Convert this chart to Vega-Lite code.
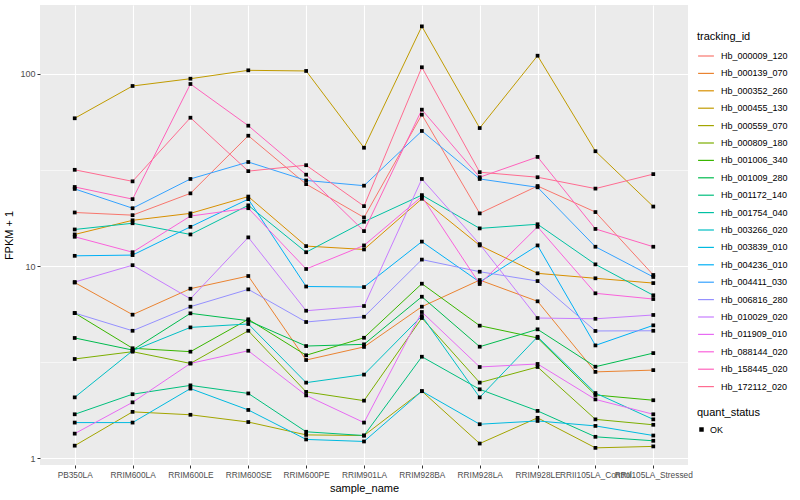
{
 "$schema": "https://vega.github.io/schema/vega-lite/v6.json",
 "width": 648, "height": 460,
 "autosize": {"type": "none"},
 "padding": {"left": 40, "top": 5, "right": 112, "bottom": 35},
 "background": "white",
 "config": {
  "font": "Liberation Sans",
  "view": {"fill": "#EBEBEB", "stroke": null},
  "axis": {"domain": false, "gridColor": "white", "gridWidth": 1.1, "tickColor": "#333333", "tickSize": 3, "labelColor": "#4D4D4D", "labelFontSize": 9, "titleFontSize": 11, "titleFontWeight": "normal", "titleColor": "black"},
  "legend": {"titleFontSize": 11, "titleFontWeight": "normal", "titleColor": "black", "labelFontSize": 9, "labelColor": "black"}
 },
 "data": {"values": [
{"tracking_id":"Hb_000009_120","sample_name":"PB350LA","FPKM":19.0,"quant_status":"OK"},
{"tracking_id":"Hb_000009_120","sample_name":"RRIM600LA","FPKM":18.4,"quant_status":"OK"},
{"tracking_id":"Hb_000009_120","sample_name":"RRIM600LE","FPKM":23.9,"quant_status":"OK"},
{"tracking_id":"Hb_000009_120","sample_name":"RRIM600SE","FPKM":47.7,"quant_status":"OK"},
{"tracking_id":"Hb_000009_120","sample_name":"RRIM600PE","FPKM":26.7,"quant_status":"OK"},
{"tracking_id":"Hb_000009_120","sample_name":"RRIM901LA","FPKM":17.9,"quant_status":"OK"},
{"tracking_id":"Hb_000009_120","sample_name":"RRIM928BA","FPKM":61.4,"quant_status":"OK"},
{"tracking_id":"Hb_000009_120","sample_name":"RRIM928LA","FPKM":18.8,"quant_status":"OK"},
{"tracking_id":"Hb_000009_120","sample_name":"RRIM928LE","FPKM":26.1,"quant_status":"OK"},
{"tracking_id":"Hb_000009_120","sample_name":"RRII105LA_Control","FPKM":19.1,"quant_status":"OK"},
{"tracking_id":"Hb_000009_120","sample_name":"RRII105LA_Stressed","FPKM":8.98,"quant_status":"OK"},
{"tracking_id":"Hb_000139_070","sample_name":"PB350LA","FPKM":8.2,"quant_status":"OK"},
{"tracking_id":"Hb_000139_070","sample_name":"RRIM600LA","FPKM":5.58,"quant_status":"OK"},
{"tracking_id":"Hb_000139_070","sample_name":"RRIM600LE","FPKM":7.62,"quant_status":"OK"},
{"tracking_id":"Hb_000139_070","sample_name":"RRIM600SE","FPKM":8.87,"quant_status":"OK"},
{"tracking_id":"Hb_000139_070","sample_name":"RRIM600PE","FPKM":3.24,"quant_status":"OK"},
{"tracking_id":"Hb_000139_070","sample_name":"RRIM901LA","FPKM":3.79,"quant_status":"OK"},
{"tracking_id":"Hb_000139_070","sample_name":"RRIM928BA","FPKM":6.14,"quant_status":"OK"},
{"tracking_id":"Hb_000139_070","sample_name":"RRIM928LA","FPKM":8.45,"quant_status":"OK"},
{"tracking_id":"Hb_000139_070","sample_name":"RRIM928LE","FPKM":6.55,"quant_status":"OK"},
{"tracking_id":"Hb_000139_070","sample_name":"RRII105LA_Control","FPKM":2.81,"quant_status":"OK"},
{"tracking_id":"Hb_000139_070","sample_name":"RRII105LA_Stressed","FPKM":2.87,"quant_status":"OK"},
{"tracking_id":"Hb_000352_260","sample_name":"PB350LA","FPKM":14.6,"quant_status":"OK"},
{"tracking_id":"Hb_000352_260","sample_name":"RRIM600LA","FPKM":17.3,"quant_status":"OK"},
{"tracking_id":"Hb_000352_260","sample_name":"RRIM600LE","FPKM":18.8,"quant_status":"OK"},
{"tracking_id":"Hb_000352_260","sample_name":"RRIM600SE","FPKM":23.0,"quant_status":"OK"},
{"tracking_id":"Hb_000352_260","sample_name":"RRIM600PE","FPKM":12.7,"quant_status":"OK"},
{"tracking_id":"Hb_000352_260","sample_name":"RRIM901LA","FPKM":12.2,"quant_status":"OK"},
{"tracking_id":"Hb_000352_260","sample_name":"RRIM928BA","FPKM":22.4,"quant_status":"OK"},
{"tracking_id":"Hb_000352_260","sample_name":"RRIM928LA","FPKM":12.8,"quant_status":"OK"},
{"tracking_id":"Hb_000352_260","sample_name":"RRIM928LE","FPKM":9.16,"quant_status":"OK"},
{"tracking_id":"Hb_000352_260","sample_name":"RRII105LA_Control","FPKM":8.63,"quant_status":"OK"},
{"tracking_id":"Hb_000352_260","sample_name":"RRII105LA_Stressed","FPKM":8.15,"quant_status":"OK"},
{"tracking_id":"Hb_000455_130","sample_name":"PB350LA","FPKM":58.8,"quant_status":"OK"},
{"tracking_id":"Hb_000455_130","sample_name":"RRIM600LA","FPKM":86.6,"quant_status":"OK"},
{"tracking_id":"Hb_000455_130","sample_name":"RRIM600LE","FPKM":94.5,"quant_status":"OK"},
{"tracking_id":"Hb_000455_130","sample_name":"RRIM600SE","FPKM":104.5,"quant_status":"OK"},
{"tracking_id":"Hb_000455_130","sample_name":"RRIM600PE","FPKM":103.7,"quant_status":"OK"},
{"tracking_id":"Hb_000455_130","sample_name":"RRIM901LA","FPKM":41.3,"quant_status":"OK"},
{"tracking_id":"Hb_000455_130","sample_name":"RRIM928BA","FPKM":177,"quant_status":"OK"},
{"tracking_id":"Hb_000455_130","sample_name":"RRIM928LA","FPKM":52.3,"quant_status":"OK"},
{"tracking_id":"Hb_000455_130","sample_name":"RRIM928LE","FPKM":124.5,"quant_status":"OK"},
{"tracking_id":"Hb_000455_130","sample_name":"RRII105LA_Control","FPKM":39.6,"quant_status":"OK"},
{"tracking_id":"Hb_000455_130","sample_name":"RRII105LA_Stressed","FPKM":20.4,"quant_status":"OK"},
{"tracking_id":"Hb_000559_070","sample_name":"PB350LA","FPKM":1.16,"quant_status":"OK"},
{"tracking_id":"Hb_000559_070","sample_name":"RRIM600LA","FPKM":1.74,"quant_status":"OK"},
{"tracking_id":"Hb_000559_070","sample_name":"RRIM600LE","FPKM":1.68,"quant_status":"OK"},
{"tracking_id":"Hb_000559_070","sample_name":"RRIM600SE","FPKM":1.54,"quant_status":"OK"},
{"tracking_id":"Hb_000559_070","sample_name":"RRIM600PE","FPKM":1.32,"quant_status":"OK"},
{"tracking_id":"Hb_000559_070","sample_name":"RRIM901LA","FPKM":1.31,"quant_status":"OK"},
{"tracking_id":"Hb_000559_070","sample_name":"RRIM928BA","FPKM":2.23,"quant_status":"OK"},
{"tracking_id":"Hb_000559_070","sample_name":"RRIM928LA","FPKM":1.19,"quant_status":"OK"},
{"tracking_id":"Hb_000559_070","sample_name":"RRIM928LE","FPKM":1.62,"quant_status":"OK"},
{"tracking_id":"Hb_000559_070","sample_name":"RRII105LA_Control","FPKM":1.13,"quant_status":"OK"},
{"tracking_id":"Hb_000559_070","sample_name":"RRII105LA_Stressed","FPKM":1.15,"quant_status":"OK"},
{"tracking_id":"Hb_000809_180","sample_name":"PB350LA","FPKM":3.28,"quant_status":"OK"},
{"tracking_id":"Hb_000809_180","sample_name":"RRIM600LA","FPKM":3.58,"quant_status":"OK"},
{"tracking_id":"Hb_000809_180","sample_name":"RRIM600LE","FPKM":3.11,"quant_status":"OK"},
{"tracking_id":"Hb_000809_180","sample_name":"RRIM600SE","FPKM":4.6,"quant_status":"OK"},
{"tracking_id":"Hb_000809_180","sample_name":"RRIM600PE","FPKM":2.21,"quant_status":"OK"},
{"tracking_id":"Hb_000809_180","sample_name":"RRIM901LA","FPKM":1.99,"quant_status":"OK"},
{"tracking_id":"Hb_000809_180","sample_name":"RRIM928BA","FPKM":5.36,"quant_status":"OK"},
{"tracking_id":"Hb_000809_180","sample_name":"RRIM928LA","FPKM":2.47,"quant_status":"OK"},
{"tracking_id":"Hb_000809_180","sample_name":"RRIM928LE","FPKM":2.98,"quant_status":"OK"},
{"tracking_id":"Hb_000809_180","sample_name":"RRII105LA_Control","FPKM":1.59,"quant_status":"OK"},
{"tracking_id":"Hb_000809_180","sample_name":"RRII105LA_Stressed","FPKM":1.49,"quant_status":"OK"},
{"tracking_id":"Hb_001006_340","sample_name":"PB350LA","FPKM":5.69,"quant_status":"OK"},
{"tracking_id":"Hb_001006_340","sample_name":"RRIM600LA","FPKM":3.73,"quant_status":"OK"},
{"tracking_id":"Hb_001006_340","sample_name":"RRIM600LE","FPKM":3.58,"quant_status":"OK"},
{"tracking_id":"Hb_001006_340","sample_name":"RRIM600SE","FPKM":5.28,"quant_status":"OK"},
{"tracking_id":"Hb_001006_340","sample_name":"RRIM600PE","FPKM":3.43,"quant_status":"OK"},
{"tracking_id":"Hb_001006_340","sample_name":"RRIM901LA","FPKM":4.23,"quant_status":"OK"},
{"tracking_id":"Hb_001006_340","sample_name":"RRIM928BA","FPKM":8.09,"quant_status":"OK"},
{"tracking_id":"Hb_001006_340","sample_name":"RRIM928LA","FPKM":4.89,"quant_status":"OK"},
{"tracking_id":"Hb_001006_340","sample_name":"RRIM928LE","FPKM":4.22,"quant_status":"OK"},
{"tracking_id":"Hb_001006_340","sample_name":"RRII105LA_Control","FPKM":2.13,"quant_status":"OK"},
{"tracking_id":"Hb_001006_340","sample_name":"RRII105LA_Stressed","FPKM":2.0,"quant_status":"OK"},
{"tracking_id":"Hb_001009_280","sample_name":"PB350LA","FPKM":4.22,"quant_status":"OK"},
{"tracking_id":"Hb_001009_280","sample_name":"RRIM600LA","FPKM":3.65,"quant_status":"OK"},
{"tracking_id":"Hb_001009_280","sample_name":"RRIM600LE","FPKM":5.67,"quant_status":"OK"},
{"tracking_id":"Hb_001009_280","sample_name":"RRIM600SE","FPKM":5.19,"quant_status":"OK"},
{"tracking_id":"Hb_001009_280","sample_name":"RRIM600PE","FPKM":3.83,"quant_status":"OK"},
{"tracking_id":"Hb_001009_280","sample_name":"RRIM901LA","FPKM":3.91,"quant_status":"OK"},
{"tracking_id":"Hb_001009_280","sample_name":"RRIM928BA","FPKM":6.92,"quant_status":"OK"},
{"tracking_id":"Hb_001009_280","sample_name":"RRIM928LA","FPKM":3.8,"quant_status":"OK"},
{"tracking_id":"Hb_001009_280","sample_name":"RRIM928LE","FPKM":4.68,"quant_status":"OK"},
{"tracking_id":"Hb_001009_280","sample_name":"RRII105LA_Control","FPKM":2.99,"quant_status":"OK"},
{"tracking_id":"Hb_001009_280","sample_name":"RRII105LA_Stressed","FPKM":3.52,"quant_status":"OK"},
{"tracking_id":"Hb_001172_140","sample_name":"PB350LA","FPKM":1.69,"quant_status":"OK"},
{"tracking_id":"Hb_001172_140","sample_name":"RRIM600LA","FPKM":2.15,"quant_status":"OK"},
{"tracking_id":"Hb_001172_140","sample_name":"RRIM600LE","FPKM":2.39,"quant_status":"OK"},
{"tracking_id":"Hb_001172_140","sample_name":"RRIM600SE","FPKM":2.17,"quant_status":"OK"},
{"tracking_id":"Hb_001172_140","sample_name":"RRIM600PE","FPKM":1.37,"quant_status":"OK"},
{"tracking_id":"Hb_001172_140","sample_name":"RRIM901LA","FPKM":1.31,"quant_status":"OK"},
{"tracking_id":"Hb_001172_140","sample_name":"RRIM928BA","FPKM":3.37,"quant_status":"OK"},
{"tracking_id":"Hb_001172_140","sample_name":"RRIM928LA","FPKM":2.28,"quant_status":"OK"},
{"tracking_id":"Hb_001172_140","sample_name":"RRIM928LE","FPKM":1.76,"quant_status":"OK"},
{"tracking_id":"Hb_001172_140","sample_name":"RRII105LA_Control","FPKM":1.29,"quant_status":"OK"},
{"tracking_id":"Hb_001172_140","sample_name":"RRII105LA_Stressed","FPKM":1.23,"quant_status":"OK"},
{"tracking_id":"Hb_001754_040","sample_name":"PB350LA","FPKM":15.5,"quant_status":"OK"},
{"tracking_id":"Hb_001754_040","sample_name":"RRIM600LA","FPKM":16.7,"quant_status":"OK"},
{"tracking_id":"Hb_001754_040","sample_name":"RRIM600LE","FPKM":14.6,"quant_status":"OK"},
{"tracking_id":"Hb_001754_040","sample_name":"RRIM600SE","FPKM":20.7,"quant_status":"OK"},
{"tracking_id":"Hb_001754_040","sample_name":"RRIM600PE","FPKM":11.8,"quant_status":"OK"},
{"tracking_id":"Hb_001754_040","sample_name":"RRIM901LA","FPKM":17.0,"quant_status":"OK"},
{"tracking_id":"Hb_001754_040","sample_name":"RRIM928BA","FPKM":23.4,"quant_status":"OK"},
{"tracking_id":"Hb_001754_040","sample_name":"RRIM928LA","FPKM":15.7,"quant_status":"OK"},
{"tracking_id":"Hb_001754_040","sample_name":"RRIM928LE","FPKM":16.5,"quant_status":"OK"},
{"tracking_id":"Hb_001754_040","sample_name":"RRII105LA_Control","FPKM":10.2,"quant_status":"OK"},
{"tracking_id":"Hb_001754_040","sample_name":"RRII105LA_Stressed","FPKM":7.04,"quant_status":"OK"},
{"tracking_id":"Hb_003266_020","sample_name":"PB350LA","FPKM":2.07,"quant_status":"OK"},
{"tracking_id":"Hb_003266_020","sample_name":"RRIM600LA","FPKM":3.62,"quant_status":"OK"},
{"tracking_id":"Hb_003266_020","sample_name":"RRIM600LE","FPKM":4.79,"quant_status":"OK"},
{"tracking_id":"Hb_003266_020","sample_name":"RRIM600SE","FPKM":4.99,"quant_status":"OK"},
{"tracking_id":"Hb_003266_020","sample_name":"RRIM600PE","FPKM":2.47,"quant_status":"OK"},
{"tracking_id":"Hb_003266_020","sample_name":"RRIM901LA","FPKM":2.72,"quant_status":"OK"},
{"tracking_id":"Hb_003266_020","sample_name":"RRIM928BA","FPKM":5.49,"quant_status":"OK"},
{"tracking_id":"Hb_003266_020","sample_name":"RRIM928LA","FPKM":2.07,"quant_status":"OK"},
{"tracking_id":"Hb_003266_020","sample_name":"RRIM928LE","FPKM":4.28,"quant_status":"OK"},
{"tracking_id":"Hb_003266_020","sample_name":"RRII105LA_Control","FPKM":2.18,"quant_status":"OK"},
{"tracking_id":"Hb_003266_020","sample_name":"RRII105LA_Stressed","FPKM":1.59,"quant_status":"OK"},
{"tracking_id":"Hb_003839_010","sample_name":"PB350LA","FPKM":1.53,"quant_status":"OK"},
{"tracking_id":"Hb_003839_010","sample_name":"RRIM600LA","FPKM":1.53,"quant_status":"OK"},
{"tracking_id":"Hb_003839_010","sample_name":"RRIM600LE","FPKM":2.3,"quant_status":"OK"},
{"tracking_id":"Hb_003839_010","sample_name":"RRIM600SE","FPKM":1.78,"quant_status":"OK"},
{"tracking_id":"Hb_003839_010","sample_name":"RRIM600PE","FPKM":1.25,"quant_status":"OK"},
{"tracking_id":"Hb_003839_010","sample_name":"RRIM901LA","FPKM":1.22,"quant_status":"OK"},
{"tracking_id":"Hb_003839_010","sample_name":"RRIM928BA","FPKM":2.23,"quant_status":"OK"},
{"tracking_id":"Hb_003839_010","sample_name":"RRIM928LA","FPKM":1.5,"quant_status":"OK"},
{"tracking_id":"Hb_003839_010","sample_name":"RRIM928LE","FPKM":1.56,"quant_status":"OK"},
{"tracking_id":"Hb_003839_010","sample_name":"RRII105LA_Control","FPKM":1.47,"quant_status":"OK"},
{"tracking_id":"Hb_003839_010","sample_name":"RRII105LA_Stressed","FPKM":1.31,"quant_status":"OK"},
{"tracking_id":"Hb_004236_010","sample_name":"PB350LA","FPKM":11.3,"quant_status":"OK"},
{"tracking_id":"Hb_004236_010","sample_name":"RRIM600LA","FPKM":11.4,"quant_status":"OK"},
{"tracking_id":"Hb_004236_010","sample_name":"RRIM600LE","FPKM":16.0,"quant_status":"OK"},
{"tracking_id":"Hb_004236_010","sample_name":"RRIM600SE","FPKM":22.3,"quant_status":"OK"},
{"tracking_id":"Hb_004236_010","sample_name":"RRIM600PE","FPKM":7.82,"quant_status":"OK"},
{"tracking_id":"Hb_004236_010","sample_name":"RRIM901LA","FPKM":7.77,"quant_status":"OK"},
{"tracking_id":"Hb_004236_010","sample_name":"RRIM928BA","FPKM":13.4,"quant_status":"OK"},
{"tracking_id":"Hb_004236_010","sample_name":"RRIM928LA","FPKM":8.25,"quant_status":"OK"},
{"tracking_id":"Hb_004236_010","sample_name":"RRIM928LE","FPKM":12.8,"quant_status":"OK"},
{"tracking_id":"Hb_004236_010","sample_name":"RRII105LA_Control","FPKM":3.86,"quant_status":"OK"},
{"tracking_id":"Hb_004236_010","sample_name":"RRII105LA_Stressed","FPKM":4.91,"quant_status":"OK"},
{"tracking_id":"Hb_004411_030","sample_name":"PB350LA","FPKM":25.2,"quant_status":"OK"},
{"tracking_id":"Hb_004411_030","sample_name":"RRIM600LA","FPKM":20.0,"quant_status":"OK"},
{"tracking_id":"Hb_004411_030","sample_name":"RRIM600LE","FPKM":28.4,"quant_status":"OK"},
{"tracking_id":"Hb_004411_030","sample_name":"RRIM600SE","FPKM":34.8,"quant_status":"OK"},
{"tracking_id":"Hb_004411_030","sample_name":"RRIM600PE","FPKM":27.9,"quant_status":"OK"},
{"tracking_id":"Hb_004411_030","sample_name":"RRIM901LA","FPKM":26.2,"quant_status":"OK"},
{"tracking_id":"Hb_004411_030","sample_name":"RRIM928BA","FPKM":50.5,"quant_status":"OK"},
{"tracking_id":"Hb_004411_030","sample_name":"RRIM928LA","FPKM":28.4,"quant_status":"OK"},
{"tracking_id":"Hb_004411_030","sample_name":"RRIM928LE","FPKM":25.7,"quant_status":"OK"},
{"tracking_id":"Hb_004411_030","sample_name":"RRII105LA_Control","FPKM":12.6,"quant_status":"OK"},
{"tracking_id":"Hb_004411_030","sample_name":"RRII105LA_Stressed","FPKM":8.77,"quant_status":"OK"},
{"tracking_id":"Hb_006816_280","sample_name":"PB350LA","FPKM":5.69,"quant_status":"OK"},
{"tracking_id":"Hb_006816_280","sample_name":"RRIM600LA","FPKM":4.6,"quant_status":"OK"},
{"tracking_id":"Hb_006816_280","sample_name":"RRIM600LE","FPKM":6.14,"quant_status":"OK"},
{"tracking_id":"Hb_006816_280","sample_name":"RRIM600SE","FPKM":7.56,"quant_status":"OK"},
{"tracking_id":"Hb_006816_280","sample_name":"RRIM600PE","FPKM":5.11,"quant_status":"OK"},
{"tracking_id":"Hb_006816_280","sample_name":"RRIM901LA","FPKM":5.44,"quant_status":"OK"},
{"tracking_id":"Hb_006816_280","sample_name":"RRIM928BA","FPKM":10.8,"quant_status":"OK"},
{"tracking_id":"Hb_006816_280","sample_name":"RRIM928LA","FPKM":9.34,"quant_status":"OK"},
{"tracking_id":"Hb_006816_280","sample_name":"RRIM928LE","FPKM":8.35,"quant_status":"OK"},
{"tracking_id":"Hb_006816_280","sample_name":"RRII105LA_Control","FPKM":4.59,"quant_status":"OK"},
{"tracking_id":"Hb_006816_280","sample_name":"RRII105LA_Stressed","FPKM":4.6,"quant_status":"OK"},
{"tracking_id":"Hb_010029_020","sample_name":"PB350LA","FPKM":8.25,"quant_status":"OK"},
{"tracking_id":"Hb_010029_020","sample_name":"RRIM600LA","FPKM":10.1,"quant_status":"OK"},
{"tracking_id":"Hb_010029_020","sample_name":"RRIM600LE","FPKM":6.75,"quant_status":"OK"},
{"tracking_id":"Hb_010029_020","sample_name":"RRIM600SE","FPKM":14.1,"quant_status":"OK"},
{"tracking_id":"Hb_010029_020","sample_name":"RRIM600PE","FPKM":5.85,"quant_status":"OK"},
{"tracking_id":"Hb_010029_020","sample_name":"RRIM901LA","FPKM":6.19,"quant_status":"OK"},
{"tracking_id":"Hb_010029_020","sample_name":"RRIM928BA","FPKM":28.4,"quant_status":"OK"},
{"tracking_id":"Hb_010029_020","sample_name":"RRIM928LA","FPKM":13.0,"quant_status":"OK"},
{"tracking_id":"Hb_010029_020","sample_name":"RRIM928LE","FPKM":5.36,"quant_status":"OK"},
{"tracking_id":"Hb_010029_020","sample_name":"RRII105LA_Control","FPKM":5.31,"quant_status":"OK"},
{"tracking_id":"Hb_010029_020","sample_name":"RRII105LA_Stressed","FPKM":5.56,"quant_status":"OK"},
{"tracking_id":"Hb_011909_010","sample_name":"PB350LA","FPKM":1.34,"quant_status":"OK"},
{"tracking_id":"Hb_011909_010","sample_name":"RRIM600LA","FPKM":1.95,"quant_status":"OK"},
{"tracking_id":"Hb_011909_010","sample_name":"RRIM600LE","FPKM":3.11,"quant_status":"OK"},
{"tracking_id":"Hb_011909_010","sample_name":"RRIM600SE","FPKM":3.62,"quant_status":"OK"},
{"tracking_id":"Hb_011909_010","sample_name":"RRIM600PE","FPKM":2.12,"quant_status":"OK"},
{"tracking_id":"Hb_011909_010","sample_name":"RRIM901LA","FPKM":1.53,"quant_status":"OK"},
{"tracking_id":"Hb_011909_010","sample_name":"RRIM928BA","FPKM":5.76,"quant_status":"OK"},
{"tracking_id":"Hb_011909_010","sample_name":"RRIM928LA","FPKM":2.98,"quant_status":"OK"},
{"tracking_id":"Hb_011909_010","sample_name":"RRIM928LE","FPKM":3.09,"quant_status":"OK"},
{"tracking_id":"Hb_011909_010","sample_name":"RRII105LA_Control","FPKM":2.02,"quant_status":"OK"},
{"tracking_id":"Hb_011909_010","sample_name":"RRII105LA_Stressed","FPKM":1.69,"quant_status":"OK"},
{"tracking_id":"Hb_088144_020","sample_name":"PB350LA","FPKM":14.2,"quant_status":"OK"},
{"tracking_id":"Hb_088144_020","sample_name":"RRIM600LA","FPKM":11.8,"quant_status":"OK"},
{"tracking_id":"Hb_088144_020","sample_name":"RRIM600LE","FPKM":18.2,"quant_status":"OK"},
{"tracking_id":"Hb_088144_020","sample_name":"RRIM600SE","FPKM":20.0,"quant_status":"OK"},
{"tracking_id":"Hb_088144_020","sample_name":"RRIM600PE","FPKM":9.65,"quant_status":"OK"},
{"tracking_id":"Hb_088144_020","sample_name":"RRIM901LA","FPKM":12.8,"quant_status":"OK"},
{"tracking_id":"Hb_088144_020","sample_name":"RRIM928BA","FPKM":23.0,"quant_status":"OK"},
{"tracking_id":"Hb_088144_020","sample_name":"RRIM928LA","FPKM":8.06,"quant_status":"OK"},
{"tracking_id":"Hb_088144_020","sample_name":"RRIM928LE","FPKM":16.0,"quant_status":"OK"},
{"tracking_id":"Hb_088144_020","sample_name":"RRII105LA_Control","FPKM":7.21,"quant_status":"OK"},
{"tracking_id":"Hb_088144_020","sample_name":"RRII105LA_Stressed","FPKM":6.73,"quant_status":"OK"},
{"tracking_id":"Hb_158445_020","sample_name":"PB350LA","FPKM":25.8,"quant_status":"OK"},
{"tracking_id":"Hb_158445_020","sample_name":"RRIM600LA","FPKM":22.3,"quant_status":"OK"},
{"tracking_id":"Hb_158445_020","sample_name":"RRIM600LE","FPKM":88.7,"quant_status":"OK"},
{"tracking_id":"Hb_158445_020","sample_name":"RRIM600SE","FPKM":53.8,"quant_status":"OK"},
{"tracking_id":"Hb_158445_020","sample_name":"RRIM600PE","FPKM":29.9,"quant_status":"OK"},
{"tracking_id":"Hb_158445_020","sample_name":"RRIM901LA","FPKM":15.2,"quant_status":"OK"},
{"tracking_id":"Hb_158445_020","sample_name":"RRIM928BA","FPKM":65.2,"quant_status":"OK"},
{"tracking_id":"Hb_158445_020","sample_name":"RRIM928LA","FPKM":29.0,"quant_status":"OK"},
{"tracking_id":"Hb_158445_020","sample_name":"RRIM928LE","FPKM":37.0,"quant_status":"OK"},
{"tracking_id":"Hb_158445_020","sample_name":"RRII105LA_Control","FPKM":15.6,"quant_status":"OK"},
{"tracking_id":"Hb_158445_020","sample_name":"RRII105LA_Stressed","FPKM":12.6,"quant_status":"OK"},
{"tracking_id":"Hb_172112_020","sample_name":"PB350LA","FPKM":31.7,"quant_status":"OK"},
{"tracking_id":"Hb_172112_020","sample_name":"RRIM600LA","FPKM":27.6,"quant_status":"OK"},
{"tracking_id":"Hb_172112_020","sample_name":"RRIM600LE","FPKM":59.2,"quant_status":"OK"},
{"tracking_id":"Hb_172112_020","sample_name":"RRIM600SE","FPKM":31.2,"quant_status":"OK"},
{"tracking_id":"Hb_172112_020","sample_name":"RRIM600PE","FPKM":33.5,"quant_status":"OK"},
{"tracking_id":"Hb_172112_020","sample_name":"RRIM901LA","FPKM":20.5,"quant_status":"OK"},
{"tracking_id":"Hb_172112_020","sample_name":"RRIM928BA","FPKM":108.4,"quant_status":"OK"},
{"tracking_id":"Hb_172112_020","sample_name":"RRIM928LA","FPKM":30.8,"quant_status":"OK"},
{"tracking_id":"Hb_172112_020","sample_name":"RRIM928LE","FPKM":29.0,"quant_status":"OK"},
{"tracking_id":"Hb_172112_020","sample_name":"RRII105LA_Control","FPKM":25.3,"quant_status":"OK"},
{"tracking_id":"Hb_172112_020","sample_name":"RRII105LA_Stressed","FPKM":30.1,"quant_status":"OK"}
 ]},
 "encoding": {
  "x": {"field": "sample_name", "type": "nominal", "title": "sample_name",
   "sort": ["PB350LA","RRIM600LA","RRIM600LE","RRIM600SE","RRIM600PE","RRIM901LA","RRIM928BA","RRIM928LA","RRIM928LE","RRII105LA_Control","RRII105LA_Stressed"],
   "scale": {"type": "point", "padding": 0.6},
   "axis": {"labelAngle": 0, "labelFontSize": 8.3, "grid": true, "labelPadding": 2, "titlePadding": 4}},
  "y": {"field": "FPKM", "type": "quantitative", "title": "FPKM + 1",
   "scale": {"type": "log", "domain": [0.92, 228.7], "nice": false, "zero": false},
   "axis": {"values": [1, 3.1623, 10, 31.623, 100],
    "labelExpr": "(datum.value==1||datum.value==10||datum.value==100) ? format(datum.value, 'd') : ''",
    "gridWidth": {"condition": {"test": "datum.value==1||datum.value==10||datum.value==100", "value": 1.1}, "value": 0.55},
    "tickOpacity": {"condition": {"test": "datum.value==1||datum.value==10||datum.value==100", "value": 1}, "value": 0},
    "labelPadding": 2, "titlePadding": 5}}
 },
 "layer": [
  {"mark": {"type": "line", "strokeWidth": 1},
   "encoding": {"color": {"field": "tracking_id", "type": "nominal", "title": "tracking_id",
    "scale": {"range": ["#F8766D","#EA8331","#D89000","#C09B00","#A3A500","#7CAE00","#39B600","#00BB4E","#00BF7D","#00C1A3","#00BFC4","#00BAE0","#00B0F6","#35A2FF","#9590FF","#C77CFF","#E76BF3","#FA62DB","#FF62BC","#FF6C91"]},
    "legend": {"orient": "none", "legendX": 657, "legendY": 26, "symbolType": "stroke", "symbolSize": 250, "symbolStrokeWidth": 1.2, "rowPadding": 3.4, "labelOffset": 6, "titlePadding": 5}}}},
  {"mark": {"type": "point", "filled": true, "color": "black", "size": 14, "opacity": 1},
   "encoding": {"shape": {"field": "quant_status", "type": "nominal", "title": "quant_status",
    "scale": {"range": ["square"]},
    "legend": {"orient": "none", "legendX": 657, "legendY": 402, "symbolFillColor": "black", "symbolStrokeColor": "black", "symbolSize": 20, "titlePadding": 7}}}}
 ]
}
